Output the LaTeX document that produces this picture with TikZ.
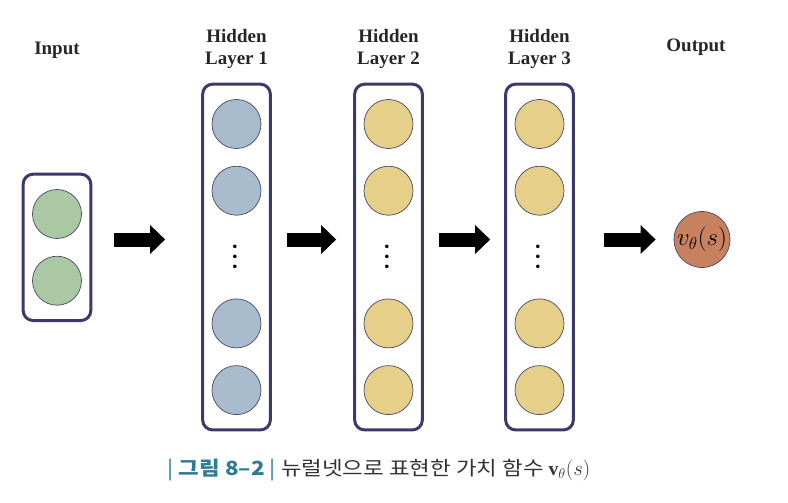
\documentclass[tikz,border=0pt]{standalone}
\usepackage{fontspec}
\setmainfont{Liberation Serif}
\newfontfamily\cjk[FakeStretch=1.15]{Noto Sans CJK KR}
\usepackage{xcolor}
\usetikzlibrary{positioning,arrows.meta,fit,calc}
\definecolor{boxnavy}{HTML}{3C3A6B}
\definecolor{ringgray}{HTML}{4A4866}
\definecolor{ingreen}{HTML}{A9C8A3}
\definecolor{hblue}{HTML}{A9BCCD}
\definecolor{hyellow}{HTML}{E6CF88}
\definecolor{outorange}{HTML}{C8815F}
\definecolor{capteal}{HTML}{2B7C95}
\definecolor{captext}{HTML}{333333}

\begin{document}
\begin{tikzpicture}[
		x=1pt, y=-1pt,
		node distance=17pt,
		neuron/.style={
			circle,
			draw=ringgray,
			line width=0.7pt,
			minimum size=49pt,
			inner sep=0pt
		},
		layerbox/.style={
			draw=boxnavy,
			line width=3pt,
			rounded corners=10pt,
			inner xsep=9pt,
			inner ysep=15pt
		},
		title/.style={
			font=\fontsize{19}{22}\selectfont\bfseries,
			align=center,
			text=black!85
		},
		vdotsnode/.style={
			rotate=90,
			inner sep=0pt,
			font=\fontsize{15}{15}\selectfont
		},
		bigarrow/.style={
			-{Triangle[length=15pt,width=28pt]},
			line width=14pt
		}
		]
		
		\useasboundingbox (0,0) rectangle (788,503);
		
		% input layer
		\node[neuron,fill=ingreen] (i1) at (57,214) {};
		\node[neuron,fill=ingreen,below=of i1] (i2) {};
		\node[layerbox,fit=(i1)(i2)] (in) {};
		
		% hidden layer 1
		\node[neuron,fill=hblue] (a1) at (236.5,124) {};
		\node[neuron,fill=hblue,below=of a1] (a2) {};
		\node[neuron,fill=hblue,below=83pt of a2] (a3) {};
		\node[neuron,fill=hblue,below=of a3] (a4) {};
		\node[vdotsnode] (adots) at ($(a2)!.5!(a3)$) {\textbullet\hspace{4.5pt}\textbullet\hspace{4.5pt}\textbullet};
		\node[layerbox,fit=(a1)(a4)] (h1) {};
		
		% hidden layer 2
		\node[neuron,fill=hyellow] (b1) at (388.5,124) {};
		\node[neuron,fill=hyellow,below=of b1] (b2) {};
		\node[neuron,fill=hyellow,below=83pt of b2] (b3) {};
		\node[neuron,fill=hyellow,below=of b3] (b4) {};
		\node[vdotsnode] (bdots) at ($(b2)!.5!(b3)$) {\textbullet\hspace{4.5pt}\textbullet\hspace{4.5pt}\textbullet};
		\node[layerbox,fit=(b1)(b4)] (h2) {};
		
		% hidden layer 3
		\node[neuron,fill=hyellow] (c1) at (539.5,124) {};
		\node[neuron,fill=hyellow,below=of c1] (c2) {};
		\node[neuron,fill=hyellow,below=83pt of c2] (c3) {};
		\node[neuron,fill=hyellow,below=of c3] (c4) {};
		\node[vdotsnode] (cdots) at ($(c2)!.5!(c3)$) {\textbullet\hspace{4.5pt}\textbullet\hspace{4.5pt}\textbullet};
		\node[layerbox,fit=(c1)(c4)] (h3) {};
		
		% output
		\node[neuron,fill=outorange,minimum size=56pt,
		font=\fontsize{26}{26}\selectfont] (out) at (702,239.5) {$v_\theta(s)$};
		
		% titles
		\node[title] (tin) at (57,50) {Input};
		\node[title] (th1) at (236.5,49) {Hidden\\Layer 1};
		\node[title] (th2) at (388.5,49) {Hidden\\Layer 2};
		\node[title] (th3) at (539.5,49) {Hidden\\Layer 3};
		\node[title] (tout) at (696,47) {Output};
		
		\draw[bigarrow,shorten <=22pt,shorten >=36pt] (in.east |- out) -- (h1.west |- out);
		\draw[bigarrow,shorten <=15pt,shorten >=17pt] (h1.east |- out) -- (h2.west |- out);
		\draw[bigarrow,shorten <=15pt,shorten >=14pt] (h2.east |- out) -- (h3.west |- out);
		\draw[bigarrow,shorten <=29pt,shorten >=18pt] (h3.east |- out) -- (out.west);
		
		% caption
		\node[font=\cjk\fontsize{19.5}{21}\selectfont,text=captext] (cap) at (379,470)
		{{\color{capteal}| {\bfseries 그림 8–2} |} 뉴럴넷으로 표현한 가치 함수 $\mathbf{v}_\theta(s)$};
		
	\end{tikzpicture}
\end{document}
